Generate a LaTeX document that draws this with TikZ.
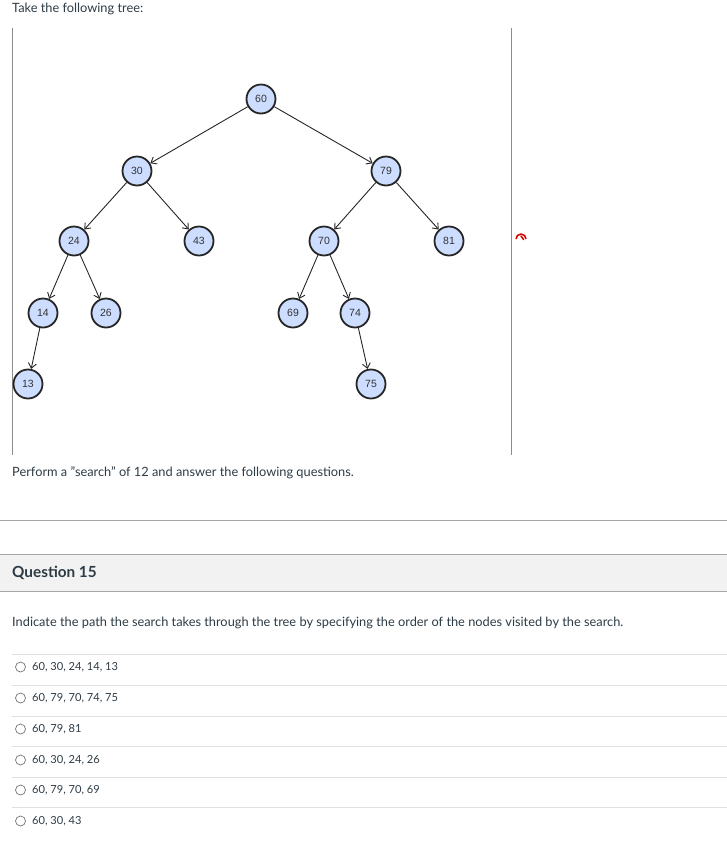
\documentclass[tikz,border=0pt]{standalone}
\usepackage{fontspec}
\setmainfont{Lato}
\newfontfamily\arialf{Liberation Sans}
\usetikzlibrary{arrows.meta}
\definecolor{txt}{HTML}{2D3B45}
\definecolor{nodefill}{HTML}{CCDDFF}
\begin{document}
\begin{tikzpicture}[x=1pt,y=-1pt,
  tn/.style={circle,draw=black!85,line width=1.8pt,fill=nodefill,minimum size=29pt,inner sep=0pt,font=\arialf\fontsize{10.5}{12}\selectfont,text=black!80},
  ed/.style={-{Straight Barb[length=5pt,width=8pt]},draw=black!85,line width=0.9pt},
  body/.style={anchor=west,text=txt,font=\fontsize{12.8}{14}\selectfont,inner sep=0pt},
  sep/.style={draw=black!12,line width=0.8pt},
  radio/.style={circle,draw=black!55,line width=0.7pt,minimum size=10pt,inner sep=0pt}]
\useasboundingbox (0,0) rectangle (727,852);
\node[body] (t1) at (12,9) {Take the following tree:};
\draw[draw=black!45,line width=0.8pt] (12,28) -- (12,455) (511,28) -- (511,455);
\node[tn] (n60) at (261,99) {60};
\node[tn] (n30) at (137,171) {30};
\node[tn] (n79) at (386,171) {79};
\node[tn] (n24) at (74,241) {24};
\node[tn] (n43) at (199,241) {43};
\node[tn] (n70) at (324,241) {70};
\node[tn] (n81) at (449,241) {81};
\node[tn] (n14) at (43,313) {14};
\node[tn] (n26) at (106,313) {26};
\node[tn] (n69) at (293,313) {69};
\node[tn] (n74) at (355,313) {74};
\node[tn] (n13) at (28,384) {13};
\node[tn] (n75) at (371,384) {75};
\foreach \a/\b in {60/30,60/79,30/24,30/43,79/70,79/81,24/14,24/26,70/69,70/74,14/13,74/75}
  \draw[ed] (n\a) -- (n\b);
% gauge icon
\node (icon) at (521,236) {};
\draw[red!85!black,line width=1.5pt] (516,239) arc (180:360:5);
\draw[red!85!black,line width=1.5pt,line cap=round] (521,236) -- (523.5,239.5);
\node[body] (t2) at (12,473) {Perform a \char"22search\char"22{} of 12 and answer the following questions.};
\draw[draw=black!35,line width=0.8pt] (0,520) -- (727,520);
\fill[black!5] (0,554) rectangle (727,591);
\draw[draw=black!35,line width=0.8pt] (0,554) -- (727,554) (0,591) -- (727,591);
\node[body,font=\bfseries\fontsize{15.3}{17}\selectfont] (q) at (12,573) {Question 15};
\node[body] (t3) at (12,623) {Indicate the path the search takes through the tree by specifying the order of the nodes visited by the search.};
\foreach \y in {654,685,716,746,777,807} \draw[sep] (12,\y) -- (727,\y);
\foreach \y/\s [count=\i] in {667/{60, 30, 24, 14, 13},698/{60, 79, 70, 74, 75},729/{60, 79, 81},760/{60, 30, 24, 26},790/{60, 79, 70, 69},821/{60, 30, 43}} {
  \node[radio] (r\i) at (20.5,\y) {};
  \node[body,font=\fontsize{11.1}{13}\selectfont] (o\i) at (32,\y) {\s};
}
\end{tikzpicture}
\end{document}
